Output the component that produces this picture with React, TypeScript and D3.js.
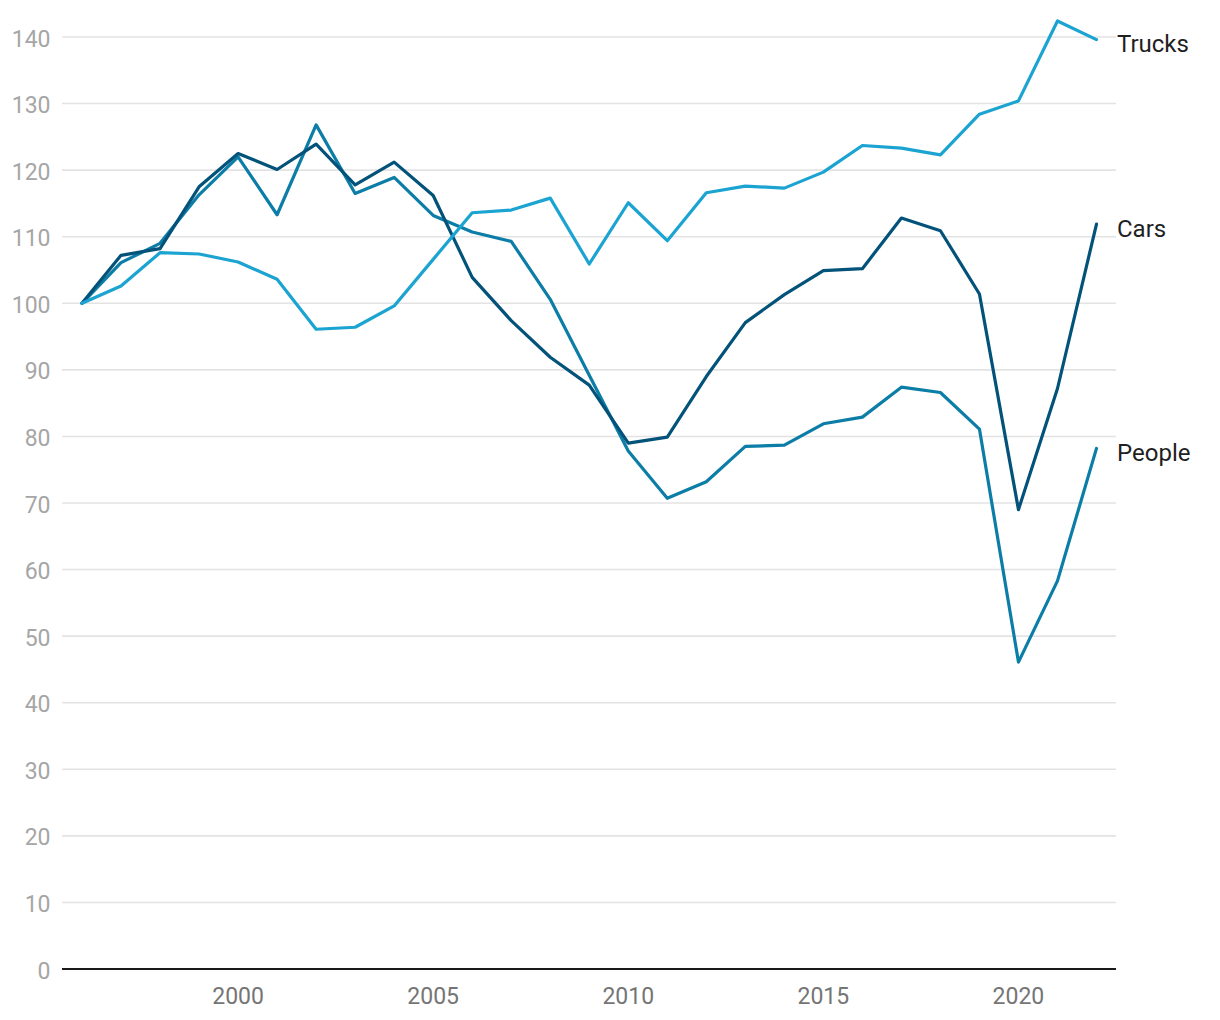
import React from "react";
import * as d3 from "d3";

const years: number[] = d3.range(1996, 2023);
const trucks: number[] = [100, 102.6, 107.6, 107.4, 106.2, 103.6, 96.1, 96.4, 99.6, 106.6, 113.6, 114.0, 115.8, 105.9, 115.1, 109.4, 116.6, 117.6, 117.3, 119.7, 123.7, 123.3, 122.3, 128.4, 130.4, 142.4, 139.6];
const cars: number[] = [100, 107.2, 108.2, 117.5, 122.5, 120.1, 123.9, 117.8, 121.2, 116.2, 103.9, 97.4, 91.9, 87.7, 79.0, 79.9, 89.0, 97.1, 101.3, 104.9, 105.2, 112.8, 110.9, 101.4, 69.0, 87.2, 111.9];
const people: number[] = [100, 106.1, 109.0, 116.3, 122.0, 113.3, 126.8, 116.5, 118.9, 113.2, 110.7, 109.3, 100.6, 89.2, 77.8, 70.7, 73.2, 78.5, 78.7, 81.9, 82.9, 87.4, 86.6, 81.1, 46.1, 58.3, 78.2];
const seriesNames: string[] = ["Trucks", "Cars", "People"];
const seriesColors: string[] = ["#1ba3d1", "#03527a", "#0b7da6"];
const yTicks: number[] = d3.range(0, 150, 10);
const xTicks: number[] = [2000, 2005, 2010, 2015, 2020];

export default function App() {
  const W = 1220, H = 1020;
  const x = d3.scaleLinear().domain([1996, 2022]).range([82, 1096.5]);
  const y = d3.scaleLinear().domain([0, 140]).range([969, 37]);
  const seriesData = [trucks, cars, people];
  const line = d3.line<number>().x((_, i) => x(years[i])).y((d) => y(d));
  const font = "Roboto, 'Noto Sans', sans-serif";

  return (
    <svg width={W} height={H} style={{ position: "absolute", left: 0, top: 0, background: "#fff" }} fontFamily={font}>
      {yTicks.filter((t) => t > 0).map((t) => (
        <line key={t} x1={62} x2={1116} y1={y(t)} y2={y(t)} stroke="#e3e3e3" strokeWidth={1.6} />
      ))}
      {yTicks.map((t) => (
        <text key={t} x={50.5} y={y(t) + 9.5} textAnchor="end" fontSize={23} fill="#a6a6a6">{t}</text>
      ))}
      {xTicks.map((t) => (
        <text key={t} x={x(t)} y={1004} textAnchor="middle" fontSize={23} fill="#757575">{t}</text>
      ))}
      {[people, cars, trucks].map((s) => {
        const idx = seriesData.indexOf(s);
        return (
          <path key={seriesNames[idx]} d={line(s) || ""} fill="none" stroke={seriesColors[idx]} strokeWidth={3.2} strokeLinejoin="round" strokeLinecap="round" />
        );
      })}
      <line x1={62} x2={1116} y1={y(0)} y2={y(0)} stroke="#1a1a1a" strokeWidth={2} />
      {seriesData.map((s, i) => (
        <text key={seriesNames[i]} x={1117} y={y(s[s.length - 1]) + 12.5} fontSize={24} fill="#1f1f1f">{seriesNames[i]}</text>
      ))}
    </svg>
  );
}
